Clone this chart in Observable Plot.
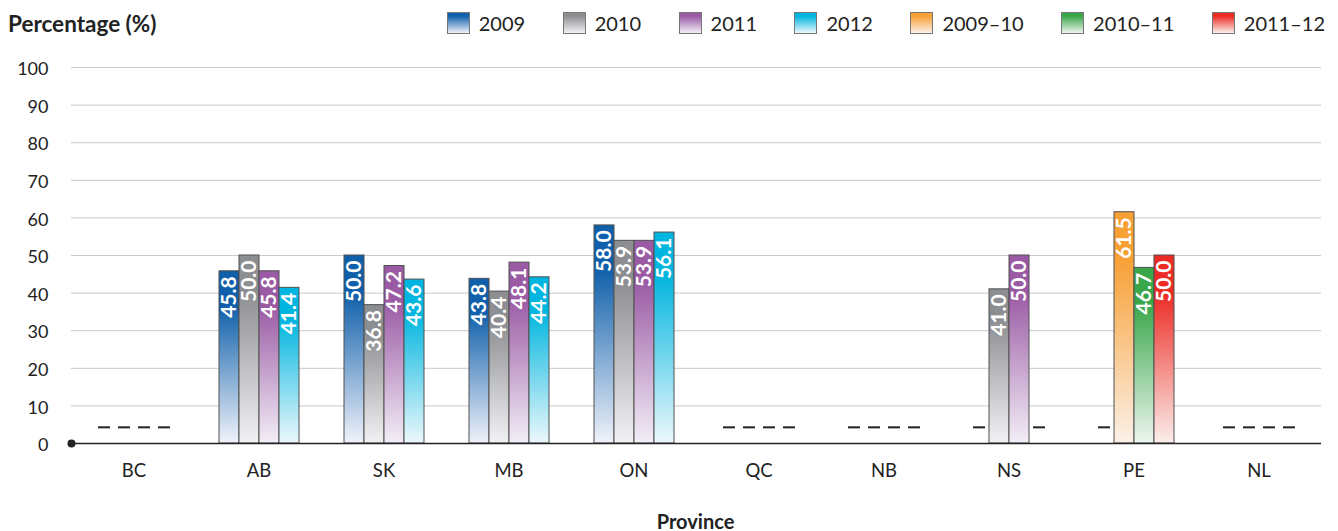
<!DOCTYPE html>
<html><head><meta charset="utf-8">
<script src="https://cdn.jsdelivr.net/npm/d3@7"></script>
<script src="https://cdn.jsdelivr.net/npm/@observablehq/plot@0.6"></script>
<style>
body{margin:0;width:1338px;height:531px;background:#fff;font-family:Lato,sans-serif;color:#222;position:relative;overflow:hidden}
#header{position:relative;height:48px}
#title{position:absolute;left:8px;top:10px;font-weight:bold;font-size:22.5px;line-height:28px}
#legend{position:absolute;right:13px;top:11px;display:flex;gap:37.5px;align-items:center}
.item{display:flex;align-items:center;gap:9px;font-size:20px;line-height:24px}
.sw{width:23px;height:22px;box-sizing:border-box;border:1px solid #777}
#xlabel{padding:16px 15px 0 68px;text-align:center;font-weight:bold;font-size:20px;line-height:24px}
#defs{position:absolute;width:0;height:0;left:0;top:0}
</style>
</head><body>
<svg id="defs" aria-hidden="true"><defs id="gradDefs"></defs></svg>
<div id="header"><div id="title">Percentage (%)</div><div id="legend"></div></div>
<div id="chart"></div>
<div id="xlabel">Province</div>
<script>
// ---- data ----
const provinces = ["BC","AB","SK","MB","ON","QC","NB","NS","PE","NL"];
const seriesNames = ["2009","2010","2011","2012","2009–10","2010–11","2011–12"];
// slot within each province group (1..4)
const seriesSlots = [1,2,3,4,2,3,4];
const seriesColors = ["#0f5faa","#8d8e91","#9a5aa4","#00b5df","#f7a035","#3aa64a","#ec2b24"];
const seriesLight  = ["#f0f2fa","#f2f2f4","#f3eef7","#ecf8fc","#fbf1e8","#edf6ef","#fbefec"];
const v2009   = [null,45.8,50.0,43.8,58.0,null,null,null,null,null];
const v2010   = [null,50.0,36.8,40.4,53.9,null,null,41.0,null,null];
const v2011   = [null,45.8,47.2,48.1,53.9,null,null,50.0,null,null];
const v2012   = [null,41.4,43.6,44.2,56.1,null,null,null,null,null];
const v2009_10 = [null,null,null,null,null,null,null,null,61.5,null];
const v2010_11 = [null,null,null,null,null,null,null,null,46.7,null];
const v2011_12 = [null,null,null,null,null,null,null,null,50.0,null];
const seriesValues = [v2009,v2010,v2011,v2012,v2009_10,v2010_11,v2011_12];
const yTicks = [0,10,20,30,40,50,60,70,80,90,100];
const naDashLevel = 4.3; // "–" marker for data not available
const slots = [1,2,3,4];

// ---- gradients ----
const defs = document.getElementById("gradDefs");
const NS = "http://www.w3.org/2000/svg";
seriesNames.forEach((n,i)=>{
  const g = document.createElementNS(NS,"linearGradient");
  g.setAttribute("id","grad"+i);
  g.setAttribute("x1","0");g.setAttribute("y1","0");g.setAttribute("x2","0");g.setAttribute("y2","1");
  [[0,seriesColors[i]],[0.2,seriesColors[i]],[1,seriesLight[i]]].forEach(([o,c])=>{
    const s=document.createElementNS(NS,"stop");
    s.setAttribute("offset",o);s.setAttribute("stop-color",c);g.appendChild(s);
  });
  defs.appendChild(g);
});

// ---- legend ----
const legend = document.getElementById("legend");
seriesNames.forEach((n,i)=>{
  const it=document.createElement("div");it.className="item";
  const sw=document.createElement("div");sw.className="sw";
  sw.style.background=`linear-gradient(${seriesColors[i]} 0%, ${seriesColors[i]} 15%, ${seriesLight[i]} 100%)`;
  const t=document.createElement("span");t.textContent=n;
  it.appendChild(sw);it.appendChild(t);legend.appendChild(it);
});

// ---- rows ----
const rows = [];
seriesNames.forEach((n,i)=>{
  seriesValues[i].forEach((v,j)=>{
    if (v!=null) rows.push({province:provinces[j], series:n, si:i, slot:seriesSlots[i], value:v});
  });
});
const dashes = [];
provinces.forEach(p=>{
  slots.forEach(s=>{
    if (!rows.some(r=>r.province===p && r.slot===s)) dashes.push({province:p, slot:s});
  });
});

const marks = [
  Plot.ruleY(yTicks.filter(t=>t>0), {stroke:"#c9c9c9", strokeWidth:1}),
];
seriesNames.forEach((n,i)=>{
  const d = rows.filter(r=>r.si===i);
  marks.push(Plot.barY(d, {fx:"province", x:"slot", y:"value", fill:`url(#grad${i})`, stroke:"#505050", strokeWidth:1}));
});
marks.push(
  Plot.tickY(dashes, {fx:"province", x:"slot", y:()=>naDashLevel, stroke:"#222", strokeWidth:2, insetLeft:4, insetRight:4}),
  Plot.text(rows, {fx:"province", x:"slot", y:"value", text:d=>d.value.toFixed(1), rotate:-90, textAnchor:"end", dy:5, fill:"white", fontWeight:"bold", fontSize:21}),
  Plot.ruleY([0], {stroke:"#222", strokeWidth:1.5}),
  Plot.dot([provinces[0]], {fx:d=>d, y:()=>0, frameAnchor:"left", r:4, fill:"#222", stroke:null}),
  Plot.axisY(yTicks, {tickSize:0, tickPadding:23, dy:2, fontSize:18, label:null}),
  Plot.axisFx({anchor:"bottom", tickSize:0, tickPadding:20, fontSize:18.5, label:null})
);

const chart = Plot.plot({
  width:1338, height:445,
  marginTop:19, marginBottom:50, marginLeft:68, marginRight:15,
  style:{fontFamily:"Lato, sans-serif", fontSize:"18px", color:"#222", background:"white"},
  fx:{domain:provinces, padding:0, label:null},
  x:{type:"band", domain:slots, paddingInner:0, paddingOuter:1.06, axis:null},
  y:{domain:[0,100]},
  marks
});
document.getElementById("chart").appendChild(chart);
</script>
</body></html>
